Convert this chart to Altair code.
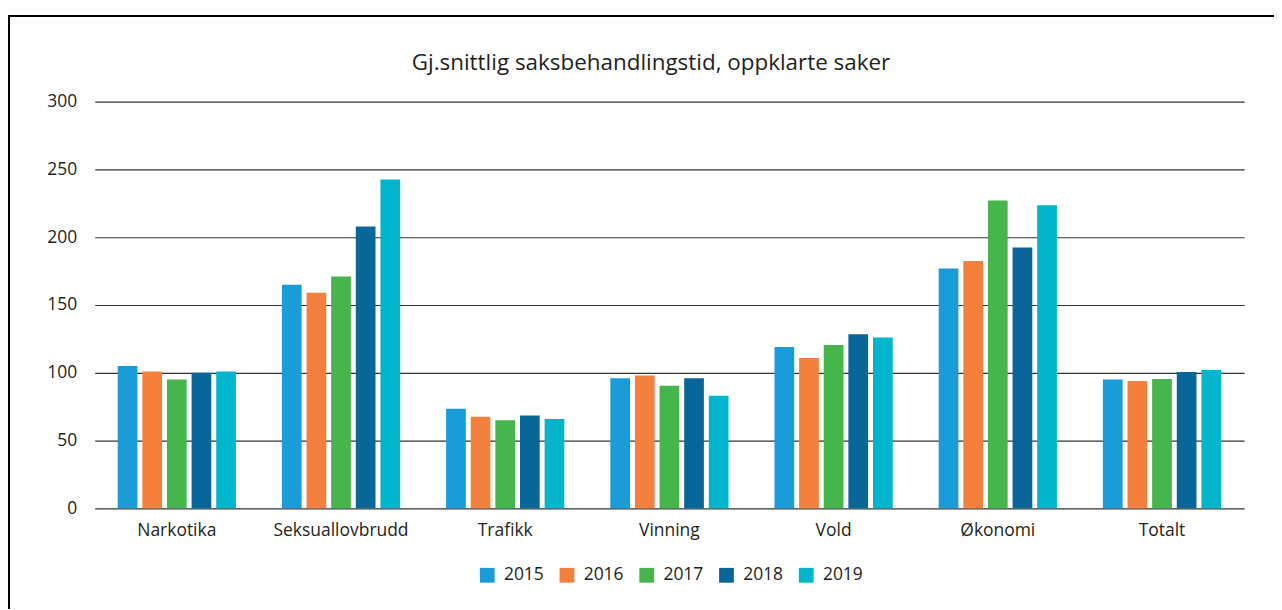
import altair as alt
import pandas as pd

categories = ["Narkotika", "Seksuallovbrudd", "Trafikk", "Vinning", "Vold", "Økonomi", "Totalt"]
years = ["2015", "2016", "2017", "2018", "2019"]
v2015 = [105, 165, 73.5, 96, 119, 177, 95]
v2016 = [101, 159, 67.5, 98, 111, 182.5, 94]
v2017 = [95, 171, 65, 90.5, 120.5, 227, 95.5]
v2018 = [100, 208, 68.5, 96, 128.5, 192.5, 100.5]
v2019 = [101, 242.5, 66, 83, 126, 223.5, 102]
colors = ["#1a9cd8", "#f4803d", "#45b54c", "#086699", "#00b5cc"]
title_text = "Gj.snittlig saksbehandlingstid, oppklarte saker"

rows = []
for y, vals in zip(years, [v2015, v2016, v2017, v2018, v2019]):
    for c, v in zip(categories, vals):
        rows.append({"Kategori": c, "År": y, "Dager": v})
df = pd.DataFrame(rows)

FONT = "Open Sans"
TXT = "#231f20"

bars = alt.Chart(df).mark_bar().encode(
    x=alt.X("Kategori:N", sort=categories,
            scale=alt.Scale(paddingInner=0.25, paddingOuter=0.125),
            axis=alt.Axis(title=None, labelAngle=0, ticks=False, domain=False,
                          labelPadding=13, labelFontSize=17.5, labelColor=TXT, labelFont=FONT)),
    xOffset=alt.XOffset("År:N", sort=years,
                        scale=alt.Scale(paddingInner=0.2, paddingOuter=0.1)),
    y=alt.Y("Dager:Q", scale=alt.Scale(domain=[0, 300], nice=False),
            axis=alt.Axis(title=None, values=[0, 50, 100, 150, 200, 250, 300],
                          ticks=False, domain=False, grid=True, gridColor="#333333",
                          gridWidth=1.2, labelPadding=18, labelFontSize=17.5,
                          labelColor=TXT, labelFont=FONT)),
    color=alt.Color("År:N", sort=years, scale=alt.Scale(domain=years, range=colors),
                    legend=alt.Legend(title=None, orient="none", direction="horizontal",
                                      legendX=385, legendY=466, symbolType="square",
                                      symbolSize=220, symbolStrokeWidth=0,
                                      labelFontSize=17.5, labelColor=TXT, labelFont=FONT,
                                      columnPadding=14, labelOffset=8)),
)

frame_df = pd.DataFrame({"t": [title_text]})
left = alt.Chart(frame_df).mark_rule(color="#000000", strokeWidth=2).encode(
    x=alt.value(-86), y=alt.value(-86), y2=alt.value(520))
top = alt.Chart(frame_df).mark_rule(color="#000000", strokeWidth=2).encode(
    x=alt.value(-87), x2=alt.value(1200), y=alt.value(-86))
title = alt.Chart(frame_df).mark_text(
    font=FONT, fontSize=22.5, color=TXT, align="center", baseline="alphabetic"
).encode(x=alt.value(558), y=alt.value(-32), text="t:N")

chart = alt.layer(bars, left, top, title).properties(
    width=1153, height=408,
    autosize=alt.AutoSizeParams(type="none"),
    padding={"left": 87, "top": 93, "right": 30, "bottom": 100},
).configure_view(stroke=None)

chart.save("out.html", embed_options={"renderer": "svg", "actions": False})
